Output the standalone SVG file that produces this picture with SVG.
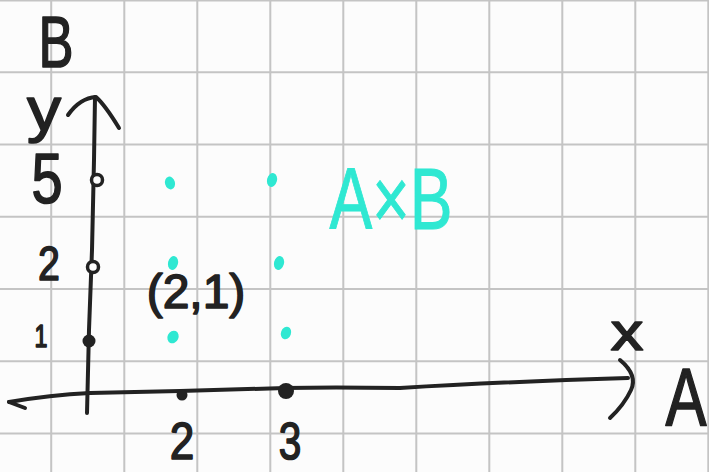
<svg xmlns="http://www.w3.org/2000/svg" width="709" height="472" viewBox="0 0 709 472">
<style>
.grid line{stroke:#c4c4c4;stroke-width:2}
.ax{fill:none;stroke:#222;stroke-width:4;stroke-linecap:round;stroke-linejoin:round}
.t{font-family:"Liberation Sans",Arial,sans-serif;fill:#222;stroke:#222;stroke-width:1.6;stroke-linejoin:round;text-anchor:middle}
.c{fill:#2fe8d2}
.ct{font-family:"Liberation Sans",Arial,sans-serif;fill:#2fe8d2;stroke:#2fe8d2;stroke-width:1;text-anchor:middle}
.bd{fill:#222}
</style>
<rect width="709" height="472" fill="#fcfcfc"/>
<g class="grid" id="grid">
<line x1="0" y1="0.5" x2="709" y2="0.5"/>
<line x1="0" y1="72.3" x2="709" y2="72.3"/>
<line x1="0" y1="144.5" x2="709" y2="144.5"/>
<line x1="0" y1="216.8" x2="709" y2="216.8"/>
<line x1="0" y1="289" x2="709" y2="289"/>
<line x1="0" y1="361.3" x2="709" y2="361.3"/>
<line x1="0" y1="433.5" x2="709" y2="433.5"/>
<line x1="51.2" y1="0" x2="51.2" y2="472"/>
<line x1="124.3" y1="0" x2="124.3" y2="472"/>
<line x1="197.3" y1="0" x2="197.3" y2="472"/>
<line x1="270.3" y1="0" x2="270.3" y2="472"/>
<line x1="343.3" y1="0" x2="343.3" y2="472"/>
<line x1="416.3" y1="0" x2="416.3" y2="472"/>
<line x1="489.3" y1="0" x2="489.3" y2="472"/>
<line x1="562.3" y1="0" x2="562.3" y2="472"/>
<line x1="635.3" y1="0" x2="635.3" y2="472"/>
<line x1="708.3" y1="0" x2="708.3" y2="472"/>
</g>
<g id="connectors">
<path class="ax" d="M87 413 L89 330 L92 250 L94 160 L95 97"/>
<path class="ax" d="M68 115 Q80 98 96 97 Q105 105 119 128"/>
<path class="ax" d="M9 402 Q50 395 90 393 L180 391 L285 388 Q330 387 400 388 Q500 382 628 378"/>
<path class="ax" d="M25 408 L9 402"/>
<path class="ax" d="M620 360 Q638 375 631 390 Q624 405 610 418"/>
</g>
<g id="points">
<circle cx="97" cy="180" r="5.5" fill="#fcfcfc" stroke="#222" stroke-width="3.5"/>
<circle cx="93" cy="267" r="5.5" fill="#fcfcfc" stroke="#222" stroke-width="3.5"/>
<circle class="bd" cx="89" cy="341" r="6.5"/>
<circle class="bd" cx="182" cy="395" r="5.5"/>
<circle class="bd" cx="286" cy="391" r="8"/>
</g>
<g id="product">
<ellipse class="c" cx="170" cy="183" rx="5" ry="6.5" transform="rotate(-15 170 183)"/>
<ellipse class="c" cx="272" cy="180" rx="5" ry="7" transform="rotate(15 272 180)"/>
<ellipse class="c" cx="173" cy="263" rx="5" ry="7" transform="rotate(15 173 263)"/>
<ellipse class="c" cx="279" cy="263" rx="5" ry="7" transform="rotate(15 279 263)"/>
<ellipse class="c" cx="173" cy="337" rx="5.5" ry="6.5" transform="rotate(25 173 337)"/>
<ellipse class="c" cx="286" cy="333" rx="5" ry="6.5" transform="rotate(20 286 333)"/>
</g>
<g id="labels">
<text class="t" transform="translate(56 67) scale(0.72 1)" font-size="73" stroke-width="2.5">B</text>
<text class="t" transform="translate(44 130) scale(1.1 1)" font-size="62">y</text>
<text class="t" transform="translate(47 203) scale(0.8 1)" font-size="70">5</text>
<text class="t" transform="translate(49 280) scale(0.82 1)" font-size="48">2</text>
<text class="t" transform="translate(41 347) scale(0.75 1)" font-size="31">1</text>
<text class="t" transform="translate(196 308)" font-size="48">(2,1)</text>
<text class="t" transform="translate(182 459) scale(0.85 1)" font-size="52">2</text>
<text class="t" transform="translate(290 459) scale(0.78 1)" font-size="52" stroke-width="2.2">3</text>
<text class="t" transform="translate(627 350) scale(1.25 1)" font-size="52">x</text>
<text class="t" transform="translate(686 425) scale(0.75 1)" font-size="82">A</text>
<text class="ct" transform="translate(391 229)" font-size="88" textLength="123" lengthAdjust="spacingAndGlyphs">A×B</text>
</g>
</svg>
